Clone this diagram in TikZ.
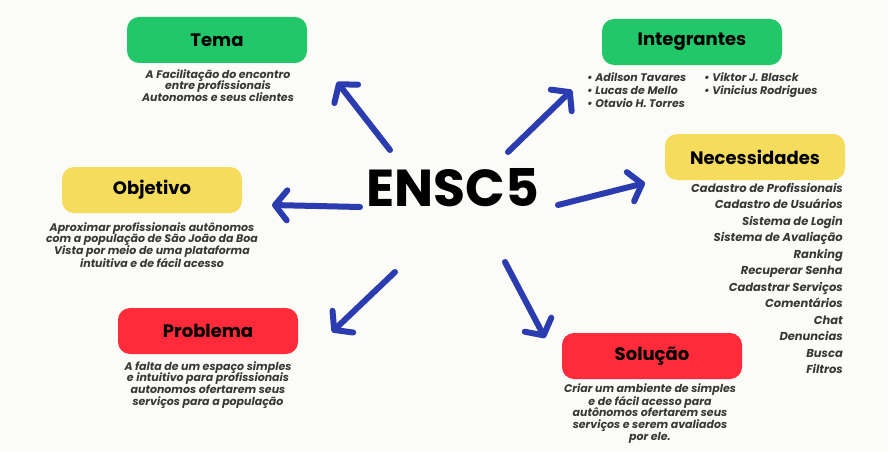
\documentclass[tikz,border=0pt]{standalone}
\usepackage{fontspec}
\setmainfont{Poppins}
\usetikzlibrary{arrows.meta}
\definecolor{bg}{HTML}{FBFBF7}
\definecolor{boxgreen}{HTML}{22C76A}
\definecolor{boxyellow}{HTML}{F6DC5C}
\definecolor{boxred}{HTML}{FF2B3A}
\definecolor{arrowblue}{HTML}{2B3CB0}
\definecolor{txt}{HTML}{383838}
\begin{document}
\begin{tikzpicture}[x=1pt,y=-1pt,
  box/.style={rounded corners=12pt, minimum width=180pt, minimum height=46pt, inner sep=0pt, text=black, font=\fontsize{18}{20}\selectfont\bfseries},
  body/.style={align=center, font=\fontsize{11}{11.8}\selectfont\bfseries\itshape, text=txt, inner sep=0pt, anchor=north},
  list/.style={align=left, font=\fontsize{11}{13}\selectfont\bfseries\itshape, text=txt, inner sep=0pt, anchor=north west},
  link/.style={draw=arrowblue, line width=6pt, line cap=round, -{Straight Barb[length=12pt,width=30pt,line cap=round,line join=round]}}]
\fill[bg] (0,0) rectangle (888,452);
\useasboundingbox (0,0) rectangle (888,452);

% central title
\node[font=\fontsize{52}{52}\selectfont\bfseries, inner sep=0pt] (center) at (453,188) {ENSC5};

% boxes
\node[box, fill=boxgreen] (tema) at (217,40) {Tema};
\node[box, fill=boxgreen] (integ) at (692,42) {Integrantes};
\node[box, fill=boxyellow] (obj) at (152,190) {Objetivo};
\node[box, fill=boxyellow] (nec) at (755,157) {Necessidades};
\node[box, fill=boxred] (prob) at (208,331) {Problema};
\node[box, fill=boxred] (sol) at (652,356) {Solução};

% body texts
\node[body] (tematxt) at (218,69) {A Facilitação do encontro\\entre profissionais\\Autonomos e seus clientes};
\node[body] (objtxt) at (152,222) {Aproximar profissionais autônomos\\com a população de São João da Boa\\Vista por meio de uma plataforma\\intuitiva e de fácil acesso};
\node[body] (probtxt) at (208,361) {A falta de um espaço simples\\e intuitivo para profissionais\\autonomos ofertarem seus\\serviços para a população};
\node[body] (soltxt) at (650,383) {Criar um ambiente de simples\\e de fácil acesso para\\autônomos ofertarem seus\\serviços e serem avaliados\\por ele.};
\node[list] (intega) at (587,72) {\textbullet\ Adilson Tavares\\\textbullet\ Lucas de Mello\\\textbullet\ Otavio H. Torres};
\node[list] (integb) at (704,72) {\textbullet\ Viktor J. Blasck\\\textbullet\ Vinicius Rodrigues};
\node[align=right, font=\fontsize{11.5}{16.5}\selectfont\bfseries\itshape, text=txt, inner sep=0pt, anchor=north east] (nectxt) at (843,183)
{Cadastro de Profissionais\\Cadastro de Usuários\\Sistema de Login\\Sistema de Avaliação\\Ranking\\Recuperar Senha\\Cadastrar Serviços\\Comentários\\Chat\\Denuncias\\Busca\\Filtros};

% arrow endpoints
\coordinate (s1) at (390,150); \coordinate (e1) at (337,82);
\coordinate (s2) at (508,152); \coordinate (e2) at (572,90);
\coordinate (s3) at (360,207); \coordinate (e3) at (272,205);
\coordinate (s4) at (558,205); \coordinate (e4) at (645,183);
\coordinate (s5) at (395,272); \coordinate (e5) at (332,332);
\coordinate (s6) at (505,262); \coordinate (e6) at (545,338);
\draw[link] (s1) -- (e1);
\draw[link] (s2) -- (e2);
\draw[link] (s3) -- (e3);
\draw[link] (s4) -- (e4);
\draw[link] (s5) -- (e5);
\draw[link] (s6) -- (e6);
\end{tikzpicture}
\end{document}
